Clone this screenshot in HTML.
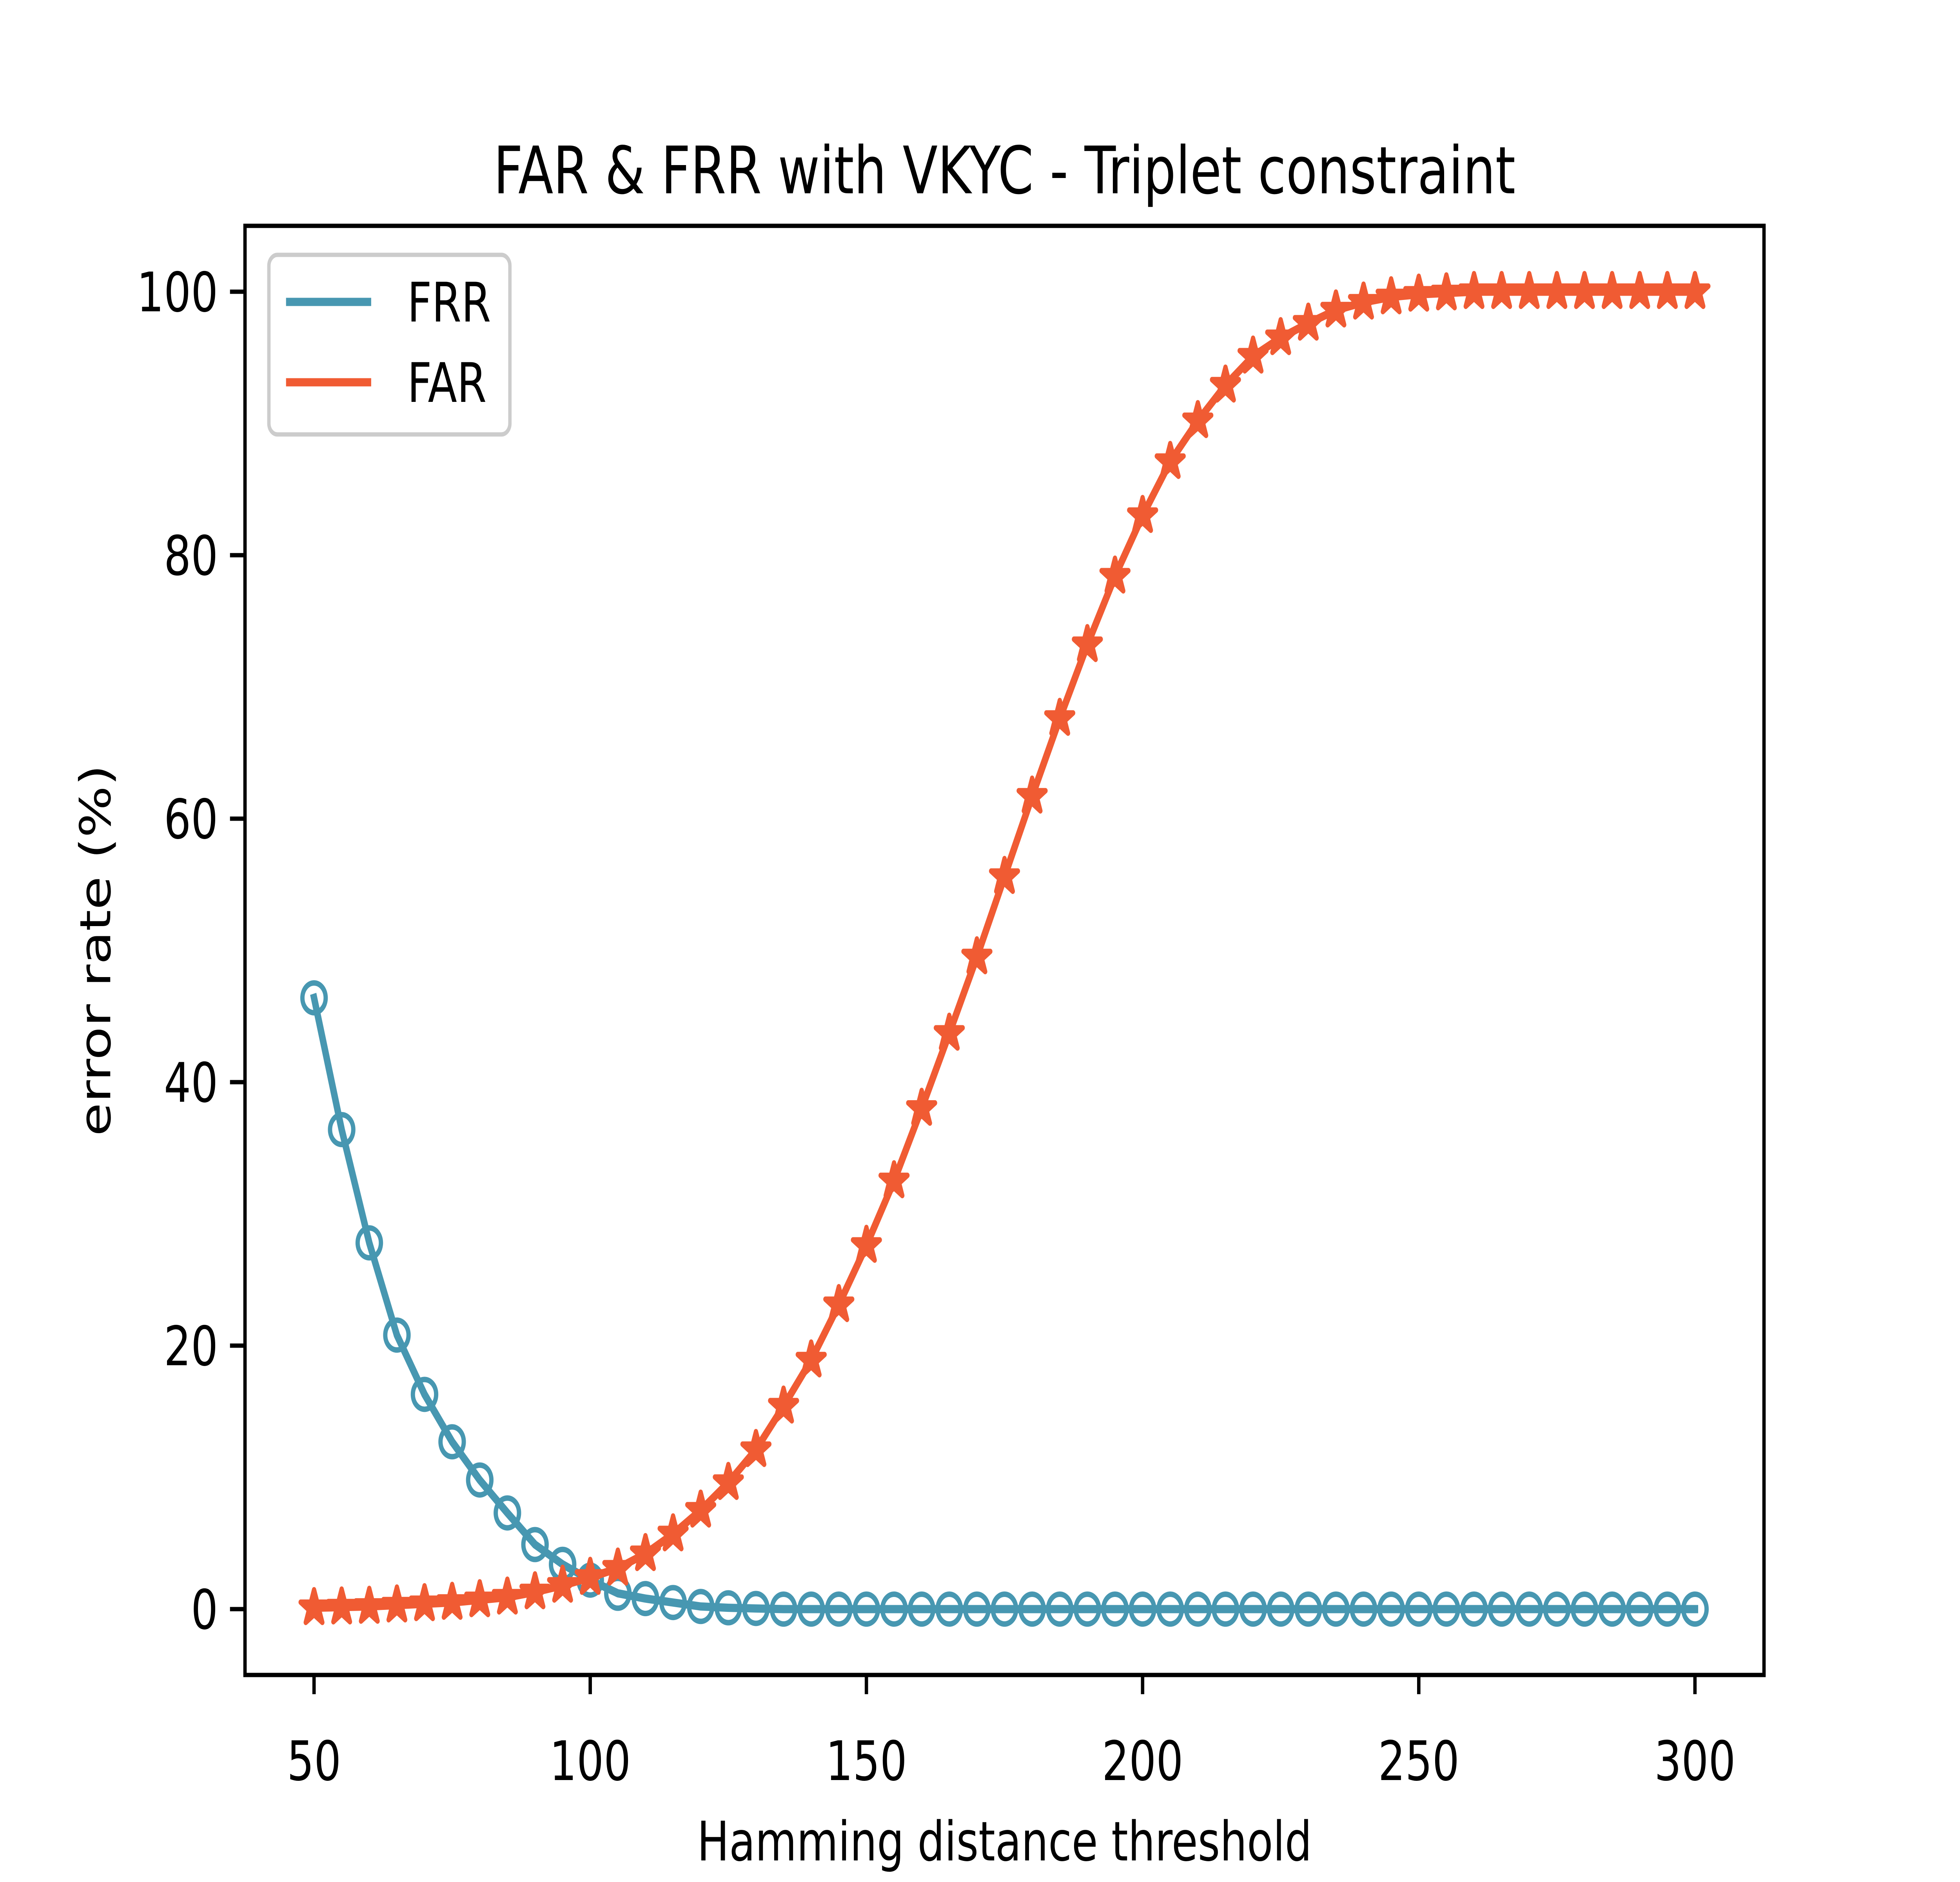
<!DOCTYPE html>
<html><head><meta charset="utf-8">
<style>html,body{margin:0;padding:0;background:#fff;width:100%;height:100%;overflow:hidden}svg{display:block;width:100vw;height:100vh}text{font-family:"DejaVu Sans","Liberation Sans",sans-serif;fill:#000}</style>
</head><body>
<svg id="chart" viewBox="0 0 6400 4800" preserveAspectRatio="none" xmlns="http://www.w3.org/2000/svg">
<rect width="6400" height="4800" fill="#fff"/>
<text x="3280" y="493" font-size="167" text-anchor="middle">FAR &amp; FRR with VKYC - Triplet constraint</text>
<g id="plot"></g>
<rect x="800" y="576" width="4960" height="3696" fill="none" stroke="#000" stroke-width="11"/>
<g id="ticks"></g>
<text x="3280" y="4745" font-size="139" text-anchor="middle">Hamming distance threshold</text>
<text x="0" y="0" font-size="139" text-anchor="middle" transform="translate(360,2424) rotate(-90)">error rate (%)</text>
<g>
<rect x="878" y="650" width="787" height="458" rx="28" fill="#fff" fill-opacity="0.8" stroke="#ccc" stroke-width="11"/>
<g><line x1="934" y1="770" x2="1212" y2="770" stroke="#4797b1" stroke-width="21"/><text x="1330" y="820" font-size="139">FRR</text></g>
<g><line x1="934" y1="975" x2="1212" y2="975" stroke="#f05b33" stroke-width="21"/><text x="1330" y="1025" font-size="139">FAR</text></g>
</g>
</svg>
<script>
const thresholds = [];
for (let t = 50; t <= 300; t += 5) thresholds.push(t);
const frrValues = [46.4,36.4,27.8,20.8,16.3,12.7,9.8,7.3,4.9,3.4,2.2,1.2,0.8,0.5,0.2,0.1,0.05,0,0,0,0,0,0,0,0,0,0,0,0,0,0,0,0,0,0,0,0,0,0,0,0,0,0,0,0,0,0,0,0,0,0];
const farValues = [0.1,0.15,0.2,0.3,0.4,0.5,0.7,0.9,1.3,1.8,2.4,3.1,4.2,5.7,7.5,9.6,12.1,15.4,18.9,23.1,27.6,32.5,38.0,43.7,49.5,55.6,61.7,67.6,73.2,78.4,83.0,87.1,90.2,92.9,95.1,96.5,97.6,98.6,99.2,99.6,99.8,99.9,100,100,100,100,100,100,100,100,100];
const xTicks = [50,100,150,200,250,300];
const yTicks = [0,20,40,60,80,100];
const NS = "http://www.w3.org/2000/svg";
const xs = v => 800 + (v - 37.5) / 275 * 4960;
const ys = v => 4272 - (v + 5) / 110 * 3696;
function mk(tag, attrs, parent){const e=document.createElementNS(NS,tag);for(const k in attrs)e.setAttribute(k,attrs[k]);parent.appendChild(e);return e;}
const plot = document.getElementById('plot');
const ticks = document.getElementById('ticks');
function star(cx, cy, R){const r=R*0.382;let p=[];for(let i=0;i<10;i++){const a=-Math.PI/2+i*Math.PI/5;const rr=i%2?r:R;p.push((cx+rr*Math.cos(a)).toFixed(1)+','+(cy+rr*Math.sin(a)).toFixed(1));}return p.join(' ');}
function series(vals, color, name, marker){
  const pts = thresholds.map((t,i)=>xs(t)+','+ys(vals[i])).join(' ');
  const l = mk('polyline',{points:pts,fill:'none',stroke:color,'stroke-width':21,'stroke-linejoin':'round','stroke-linecap':'square'},plot);
  
  
  thresholds.forEach((t,i)=>{
    let m;
    if(marker==='circle') m = mk('circle',{cx:xs(t),cy:ys(vals[i]),r:38,fill:'none',stroke:color,'stroke-width':14},plot);
    else m = mk('polygon',{points:star(xs(t),ys(vals[i]),46),fill:color,stroke:color,'stroke-width':14,'stroke-linejoin':'round'},plot);
    
    
  });
}
series(frrValues,'#4797b1','frr','circle');
series(farValues,'#f05b33','far','star');
xTicks.forEach(v=>{
  const l = mk('line',{x1:xs(v),x2:xs(v),y1:4272,y2:4321,stroke:'#000','stroke-width':11},ticks);
  
  
  const t = mk('text',{x:xs(v),y:4540,'font-size':139,'text-anchor':'middle'},ticks);
  t.textContent = v;
  
  
});
yTicks.forEach(v=>{
  const l = mk('line',{x1:751,x2:800,y1:ys(v),y2:ys(v),stroke:'#000','stroke-width':11},ticks);
  
  
  const t = mk('text',{x:712,y:ys(v)+50,'font-size':139,'text-anchor':'end'},ticks);
  t.textContent = v;
  
  
});
</script>
</body></html>
